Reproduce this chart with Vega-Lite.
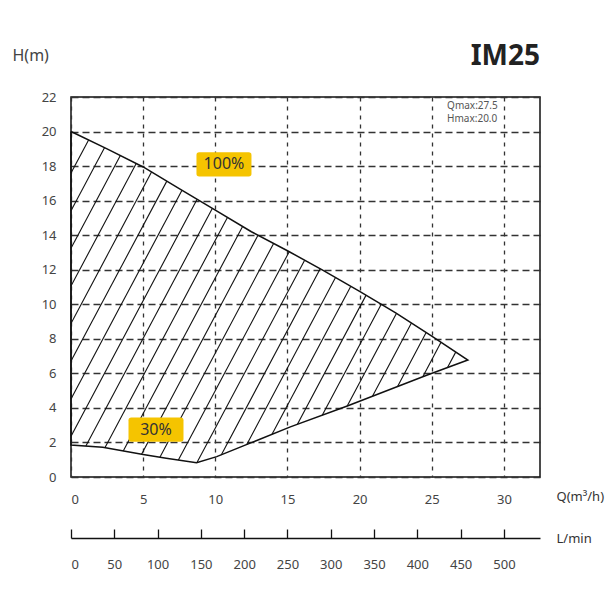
{
  "$schema": "https://vega.github.io/schema/vega-lite/v6.json",
  "width": 469,
  "height": 380,
  "autosize": "none",
  "padding": {"left": 71, "top": 97, "right": 70, "bottom": 133},
  "background": "white",
  "config": {"font": "Noto Sans", "view": {"stroke": "#111", "strokeWidth": 1.5}},
  "title": {"text": "IM25", "anchor": "end", "frame": "group", "fontSize": 28, "fontWeight": "bold", "color": "#222", "baseline": "alphabetic", "offset": 0, "dy": 46},
  "datasets": {
    "hatch": [
      {"q": 0, "h": 17.6, "q2": 1.22, "h2": 19.51},
      {"q": 0, "h": 15.41, "q2": 2.33, "h2": 19.07},
      {"q": 0, "h": 13.24, "q2": 3.42, "h2": 18.61},
      {"q": 0, "h": 11.06, "q2": 4.52, "h2": 18.15},
      {"q": 0, "h": 8.89, "q2": 5.58, "h2": 17.66},
      {"q": 0, "h": 6.71, "q2": 6.64, "h2": 17.13},
      {"q": 0, "h": 4.52, "q2": 7.69, "h2": 16.6},
      {"q": 0, "h": 2.36, "q2": 8.74, "h2": 16.08},
      {"q": 1.03, "h": 1.79, "q2": 9.79, "h2": 15.55},
      {"q": 2.35, "h": 1.7, "q2": 10.84, "h2": 15.03},
      {"q": 3.62, "h": 1.51, "q2": 11.89, "h2": 14.5},
      {"q": 4.89, "h": 1.32, "q2": 12.96, "h2": 14.0},
      {"q": 6.16, "h": 1.14, "q2": 14.04, "h2": 13.52},
      {"q": 7.44, "h": 0.98, "q2": 15.12, "h2": 13.04},
      {"q": 8.73, "h": 0.84, "q2": 16.19, "h2": 12.55},
      {"q": 10.41, "h": 1.28, "q2": 17.27, "h2": 12.06},
      {"q": 12.18, "h": 1.88, "q2": 18.33, "h2": 11.55},
      {"q": 13.93, "h": 2.47, "q2": 19.39, "h2": 11.04},
      {"q": 15.69, "h": 3.05, "q2": 20.45, "h2": 10.53},
      {"q": 17.41, "h": 3.58, "q2": 21.5, "h2": 10.0},
      {"q": 19.14, "h": 4.11, "q2": 22.55, "h2": 9.47},
      {"q": 20.89, "h": 4.68, "q2": 23.59, "h2": 8.91},
      {"q": 22.63, "h": 5.24, "q2": 24.61, "h2": 8.36},
      {"q": 24.38, "h": 5.81, "q2": 25.64, "h2": 7.8},
      {"q": 26.09, "h": 6.34, "q2": 26.66, "h2": 7.23}
    ],
    "outline": [
      {"q": 0, "h": 20, "i": 1},
      {"q": 2.5, "h": 19.0, "i": 2},
      {"q": 5, "h": 17.95, "i": 3},
      {"q": 7.5, "h": 16.7, "i": 4},
      {"q": 10, "h": 15.45, "i": 5},
      {"q": 12.5, "h": 14.2, "i": 6},
      {"q": 15, "h": 13.1, "i": 7},
      {"q": 17.5, "h": 11.95, "i": 8},
      {"q": 20, "h": 10.75, "i": 9},
      {"q": 22.5, "h": 9.5, "i": 10},
      {"q": 25, "h": 8.15, "i": 11},
      {"q": 27.5, "h": 6.77, "i": 12},
      {"q": 24.6, "h": 5.88, "i": 13},
      {"q": 19.1, "h": 4.1, "i": 14},
      {"q": 15.2, "h": 2.9, "i": 15},
      {"q": 10.1, "h": 1.18, "i": 16},
      {"q": 8.7, "h": 0.83, "i": 17},
      {"q": 6.6, "h": 1.08, "i": 18},
      {"q": 5, "h": 1.3, "i": 19},
      {"q": 2.2, "h": 1.72, "i": 20},
      {"q": 0, "h": 1.85, "i": 21},
      {"q": 0, "h": 20, "i": 22}
    ],
    "labels": [
      {"q": 10.6, "h": 18.1, "label": "100%"},
      {"q": 5.89, "h": 2.74, "label": "30%"}
    ],
    "notes": [
      {"q": 26.06, "h": 21.5, "label": "Qmax:27.5"},
      {"q": 26.06, "h": 20.75, "label": "Hmax:20.0"}
    ],
    "lmin": [{"l": 0}, {"l": 500}]
  },
  "layer": [
    {
      "layer": [
        {
          "data": {"name": "hatch"},
          "mark": {"type": "rule", "color": "#111", "strokeWidth": 1.1},
          "encoding": {
            "x": {"field": "q", "type": "quantitative",
              "scale": {"domain": [0, 32.5], "nice": false, "zero": false},
              "axis": {"values": [0, 5, 10, 15, 20, 25, 30], "tickCount": 20, "labelOverlap": false, "grid": true, "gridDash": [4, 5], "gridColor": "#333", "gridWidth": 1.3,
                "domain": false, "ticks": false, "labelPadding": 16, "labelFontSize": 13, "labelColor": "#444",
                "title": "Q(m³/h)", "titleX": 485, "titleY": 19, "titleAlign": "left", "titleBaseline": "middle",
                "titleFontSize": 13, "titleFontWeight": "normal", "titleColor": "#333"}},
            "y": {"field": "h", "type": "quantitative",
              "scale": {"domain": [0, 22], "nice": false, "zero": false},
              "axis": {"values": [0, 2, 4, 6, 8, 10, 12, 14, 16, 18, 20, 22], "tickCount": 20, "labelOverlap": false, "grid": true, "gridDash": [7, 4], "gridColor": "#333", "gridWidth": 1.3,
                "domain": false, "ticks": false, "labelPadding": 15, "labelFontSize": 13, "labelColor": "#444",
                "title": "H(m)", "titleAngle": 0, "titleX": -59, "titleY": -42, "titleAlign": "left", "titleBaseline": "middle",
                "titleFontSize": 16, "titleFontWeight": "normal", "titleColor": "#444"}},
            "x2": {"field": "q2"},
            "y2": {"field": "h2"}
          }
        },
        {
          "data": {"name": "outline"},
          "mark": {"type": "line", "color": "#111", "strokeWidth": 1.5},
          "encoding": {
            "x": {"field": "q", "type": "quantitative"},
            "y": {"field": "h", "type": "quantitative"},
            "order": {"field": "i", "type": "quantitative"}
          }
        },
        {
          "data": {"name": "labels"},
          "mark": {"type": "point", "filled": true, "opacity": 1, "color": "#F5C400", "strokeWidth": 0, "size": 3025,
            "shape": "M-0.9,-0.44L0.9,-0.44Q1,-0.44,1,-0.34L1,0.34Q1,0.44,0.9,0.44L-0.9,0.44Q-1,0.44,-1,0.34L-1,-0.34Q-1,-0.44,-0.9,-0.44Z"},
          "encoding": {
            "x": {"field": "q", "type": "quantitative"},
            "y": {"field": "h", "type": "quantitative"}
          }
        },
        {
          "data": {"name": "labels"},
          "mark": {"type": "text", "fontSize": 16, "color": "#333", "align": "center", "baseline": "middle"},
          "encoding": {
            "x": {"field": "q", "type": "quantitative"},
            "y": {"field": "h", "type": "quantitative"},
            "text": {"field": "label"}
          }
        },
        {
          "data": {"name": "notes"},
          "mark": {"type": "text", "fontSize": 10, "color": "#555", "align": "left", "baseline": "middle"},
          "encoding": {
            "x": {"field": "q", "type": "quantitative"},
            "y": {"field": "h", "type": "quantitative"},
            "text": {"field": "label"}
          }
        }
      ]
    },
    {
      "data": {"name": "lmin"},
      "mark": {"type": "point", "opacity": 0},
      "encoding": {
        "x": {"field": "l", "type": "quantitative",
          "scale": {"domain": [0, 541.67], "nice": false, "zero": false},
          "axis": {"orient": "bottom", "offset": 61, "values": [0, 50, 100, 150, 200, 250, 300, 350, 400, 450, 500], "tickCount": 20, "labelOverlap": false,
            "grid": false, "domain": true, "domainColor": "#111", "domainWidth": 1.3, "ticks": true, "tickSize": -9, "tickColor": "#111", "tickWidth": 1.3,
            "labelPadding": 29, "labelFontSize": 13, "labelColor": "#444",
            "title": "L/min", "titleX": 485, "titleY": 0, "titleAlign": "left", "titleBaseline": "middle",
            "titleFontSize": 13, "titleFontWeight": "normal", "titleColor": "#333"}}
      }
    }
  ],
  "resolve": {"scale": {"x": "independent"}}
}
